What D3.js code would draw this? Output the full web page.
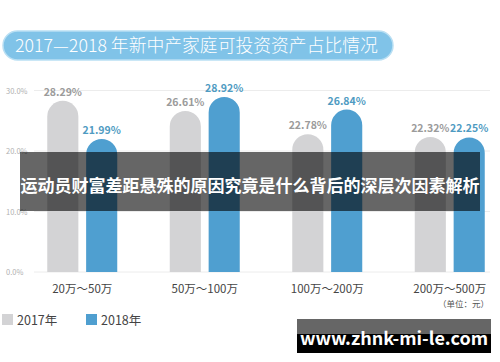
<!DOCTYPE html>
<html>
<head>
<meta charset="utf-8">
<script src="https://cdn.jsdelivr.net/npm/d3@7"></script>
<style>
  body { margin: 0; background: #fff; }
  svg { display: block; font-family: "Noto Sans CJK SC", "Noto Sans", sans-serif; }
</style>
</head>
<body>
<div id="chart"></div>
<script>
// data
var categories = ["20万～50万", "50万～100万", "100万～200万", "200万～500万"];
var seriesNames = ["2017年", "2018年"];
var values2017 = [28.29, 26.61, 22.78, 22.32];
var values2018 = [21.99, 28.92, 26.84, 22.25];
var yTicks = [0, 10, 20, 30];

var colors = ["#d3d3d5", "#4f9fd0"];
var labelColors = ["#9b9b9b", "#4f9bc2"];

var W = 500, H = 362;
var svg = d3.select("#chart").append("svg")
  .attr("width", W)
  .attr("height", H);

// titel-pille
svg.append("rect")
  .attr("x", 3).attr("y", 31).attr("width", 390).attr("height", 29)
  .attr("rx", 14.5)
  .attr("fill", "#80c3e8")
  .attr("stroke", "#b9dff3")
  .attr("stroke-width", 1.5);
var title = svg.append("text")
  .attr("x", 15).attr("y", 52)
  .attr("fill", "#fff")
  .style("font-size", "18px")
  .style("font-weight", 300)
  .text("2017—2018 年新中产家庭可投资资产占比情况");
// skaler titlen så den passer i pillen (ca. 363px bred)
var tw = title.node().getComputedTextLength();
title.style("font-size", (18 * 363 / tw) + "px");

// skalaer
var y = d3.scaleLinear().domain([0, 30]).range([272, 90.5]);
var x = d3.scaleBand().domain(categories).range([21, 511]);
var xs = d3.scaleBand().domain(seriesNames).range([-35, 35]).paddingInner(0.2);

// gitterlinjer
svg.append("g").selectAll("line")
  .data(yTicks)
  .join("line")
  .attr("x1", 34).attr("x2", 490)
  .attr("y1", function (d) { return y(d); })
  .attr("y2", function (d) { return y(d); })
  .attr("stroke", "#ececec")
  .attr("stroke-width", 1);

svg.append("g").selectAll("text")
  .data(yTicks)
  .join("text")
  .attr("x", 6)
  .attr("y", function (d) { return y(d) + 3; })
  .attr("fill", "#b0b0b0")
  .style("font-size", "7.5px")
  .text(function (d) { return d.toFixed(1) + "%"; });

// søjler med runde toppe
function barPath(x0, w, top, bottom) {
  var r = w / 2;
  return "M" + x0 + "," + bottom +
    "V" + (top + r) +
    "A" + r + "," + r + " 0 0 1 " + (x0 + w) + "," + (top + r) +
    "V" + bottom + "Z";
}

var series = [values2017, values2018];
series.forEach(function (vals, si) {
  var g = svg.append("g");
  g.selectAll("path")
    .data(vals)
    .join("path")
    .attr("fill", colors[si])
    .attr("d", function (d, i) {
      var bx = x(categories[i]) + x.bandwidth() / 2 + xs(seriesNames[si]);
      return barPath(bx, xs.bandwidth(), y(d), y(0));
    });
  g.selectAll("text")
    .data(vals)
    .join("text")
    .attr("x", function (d, i) {
      return x(categories[i]) + x.bandwidth() / 2 + xs(seriesNames[si]) + xs.bandwidth() / 2;
    })
    .attr("y", function (d) { return y(d) - 5; })
    .attr("text-anchor", "middle")
    .attr("fill", labelColors[si])
    .style("font-size", "10.5px")
    .style("font-weight", "bold")
    .text(function (d) { return d.toFixed(2) + "%"; });
});

// x-akse etiketter
svg.append("g").selectAll("text")
  .data(categories)
  .join("text")
  .attr("x", function (d) { return x(d) + x.bandwidth() / 2; })
  .attr("y", 293)
  .attr("text-anchor", "middle")
  .attr("fill", "#444")
  .style("font-size", "11.5px")
  .text(function (d) { return d; });

svg.append("text")
  .attr("x", 489).attr("y", 307)
  .attr("text-anchor", "end")
  .attr("fill", "#555")
  .style("font-size", "8.5px")
  .text("（单位：元）");

// forklaring
var legend = svg.append("g").selectAll("g")
  .data(seriesNames)
  .join("g")
  .attr("transform", function (d, i) { return "translate(" + (2 + i * 84) + ",314)"; });
legend.append("rect")
  .attr("width", 11).attr("height", 11)
  .attr("fill", function (d, i) { return colors[i]; });
legend.append("text")
  .attr("x", 15).attr("y", 10.5)
  .attr("fill", "#444")
  .style("font-size", "12.5px")
  .text(function (d) { return d; });

// banner oven på grafen
svg.append("rect")
  .attr("x", 20).attr("y", 152).attr("width", 460).attr("height", 59)
  .attr("fill", "rgba(0,0,0,0.6)");
svg.append("text")
  .attr("x", 250).attr("y", 192)
  .attr("text-anchor", "middle")
  .attr("fill", "#fff")
  .style("font-size", "17px")
  .style("font-weight", "bold")
  .text("运动员财富差距悬殊的原因究竟是什么背后的深层次因素解析");

// vandmærke
svg.append("rect")
  .attr("x", 297).attr("y", 319).attr("width", 194).attr("height", 34)
  .attr("fill", "#000");
svg.append("rect")
  .attr("x", 297).attr("y", 319).attr("width", 194).attr("height", 15)
  .attr("fill", "#666");
svg.append("text")
  .attr("x", 394).attr("y", 345)
  .attr("text-anchor", "middle")
  .attr("fill", "#fff")
  .style("font-size", "18px")
  .style("font-weight", "bold")
  .text("www.zhnk-mi-le.com");
</script>
</body>
</html>
